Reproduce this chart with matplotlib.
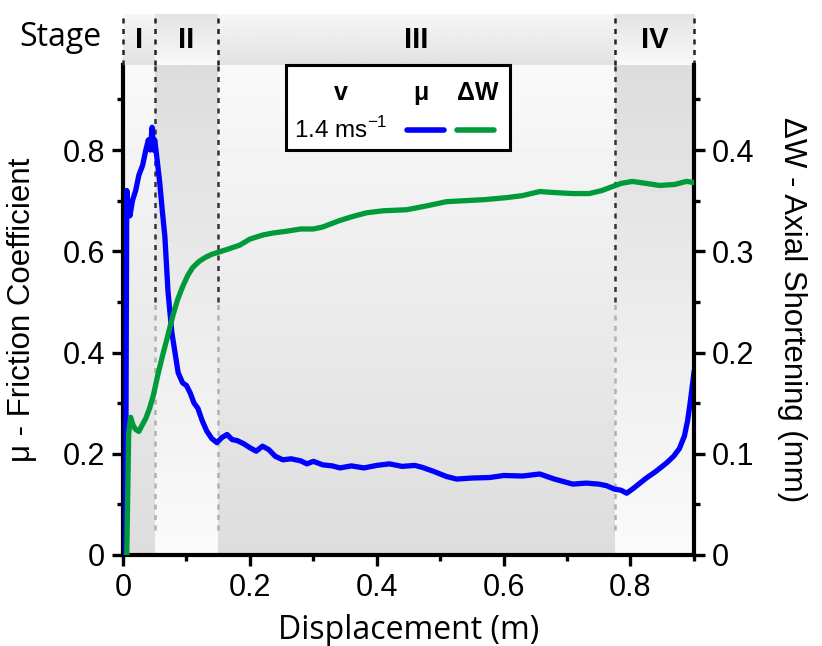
import numpy as np
import matplotlib.pyplot as plt
from matplotlib.patches import Rectangle
from matplotlib.lines import Line2D

# friction coefficient (left axis)
disp_mu = [0.004, 0.006, 0.008, 0.011, 0.015, 0.020, 0.025, 0.031, 0.036, 0.040,
           0.043, 0.046, 0.048, 0.050, 0.053, 0.058, 0.062, 0.066, 0.071, 0.077,
           0.082, 0.087, 0.094, 0.100, 0.106, 0.112, 0.118, 0.125, 0.132, 0.140,
           0.148, 0.156, 0.164, 0.172, 0.180, 0.190, 0.200, 0.210, 0.220, 0.230,
           0.240, 0.252, 0.265, 0.280, 0.290, 0.300, 0.315, 0.330, 0.342, 0.360,
           0.380, 0.400, 0.420, 0.440, 0.460, 0.472, 0.490, 0.510, 0.526, 0.550,
           0.578, 0.600, 0.630, 0.657, 0.680, 0.709, 0.730, 0.750, 0.762, 0.775,
           0.785, 0.794, 0.805, 0.815, 0.825, 0.840, 0.857, 0.868, 0.877, 0.885,
           0.890, 0.894, 0.897, 0.900]
mu = [0.0, 0.72, 0.69, 0.67, 0.70, 0.72, 0.75, 0.77, 0.80, 0.82,
      0.80, 0.845, 0.80, 0.82, 0.79, 0.735, 0.68, 0.63, 0.52, 0.44,
      0.40, 0.36, 0.34, 0.335, 0.32, 0.30, 0.29, 0.265, 0.245, 0.23,
      0.222, 0.232, 0.238, 0.228, 0.226, 0.22, 0.212, 0.205, 0.215, 0.208,
      0.195, 0.188, 0.19, 0.186, 0.18, 0.185, 0.178, 0.176, 0.172, 0.176,
      0.172, 0.177, 0.18, 0.175, 0.177, 0.173, 0.165, 0.155, 0.150, 0.152,
      0.153, 0.157, 0.156, 0.16, 0.15, 0.14, 0.142, 0.14, 0.137, 0.13,
      0.128, 0.122, 0.132, 0.142, 0.152, 0.165, 0.182, 0.195, 0.21, 0.235,
      0.265, 0.30, 0.33, 0.36]

# axial shortening (right axis, mm)
disp_dw = [0.006, 0.009, 0.012, 0.016, 0.020, 0.025, 0.030, 0.036, 0.042, 0.048,
           0.055, 0.062, 0.070, 0.078, 0.086, 0.094, 0.102, 0.110, 0.120, 0.130,
           0.140, 0.150, 0.165, 0.184, 0.200, 0.220, 0.236, 0.260, 0.280, 0.300,
           0.315, 0.340, 0.360, 0.384, 0.410, 0.447, 0.480, 0.510, 0.540, 0.570,
           0.605, 0.630, 0.657, 0.680, 0.709, 0.735, 0.755, 0.772, 0.785, 0.803,
           0.825, 0.846, 0.870, 0.888, 0.900]
dw = [0.0, 0.12, 0.136, 0.128, 0.124, 0.122, 0.128, 0.135, 0.145, 0.158,
      0.178, 0.196, 0.215, 0.235, 0.252, 0.265, 0.276, 0.284, 0.29, 0.294,
      0.297, 0.299, 0.302, 0.306, 0.312, 0.316, 0.318, 0.32, 0.322, 0.322,
      0.324, 0.33, 0.334, 0.338, 0.34, 0.341, 0.345, 0.349, 0.35, 0.351,
      0.353, 0.355, 0.359, 0.358, 0.357, 0.357, 0.36, 0.364, 0.367, 0.369,
      0.367, 0.365, 0.366, 0.369, 0.368]

stage_edges = [0.0, 0.05, 0.15, 0.775, 0.9]
stage_names = ['I', 'II', 'III', 'IV']

arial = 'Liberation Sans'
myriad = 'Open Sans'
plt.rcParams['mathtext.fontset'] = 'custom'
plt.rcParams['mathtext.rm'] = arial

fig = plt.figure(figsize=(8.22, 6.46), dpi=100)
ax = fig.add_axes([0.1496, 0.1409, 0.6946, 0.7585])
band = fig.add_axes([0.1496, 0.8994, 0.6946, 0.0789])

ymax = 0.968
ax.set_xlim(0, 0.9)
ax.set_ylim(0, ymax)
band.set_xlim(0, 0.9)
band.set_ylim(0, 1)
band.axis('off')

# shaded stage gradients (white <-> light gray, alternating)
ramp = np.linspace(0, 1, 64)[:, None]
for i in range(4):
    x0, x1 = stage_edges[i], stage_edges[i + 1]
    if i % 2 == 0:
        grad = 0.975 + (0.865 - 0.975) * ramp
        bgrad = 0.965 + (0.885 - 0.965) * ramp
    else:
        grad = 0.865 + (0.98 - 0.865) * ramp
        bgrad = 0.89 + (0.975 - 0.89) * ramp
    ax.imshow(np.repeat(grad, 2, axis=1), cmap='gray', vmin=0, vmax=1,
              extent=[x0, x1, 0, ymax], aspect='auto', interpolation='bilinear',
              origin='upper', zorder=0)
    band.imshow(np.repeat(bgrad, 2, axis=1), cmap='gray', vmin=0, vmax=1,
                extent=[x0, x1, 0, 1], aspect='auto', interpolation='bilinear',
                origin='upper', zorder=0)
    band.text((x0 + x1) / 2, 0.5, stage_names[i], ha='center', va='center',
              fontsize=21, fontweight='bold', family=arial)

# stage boundary lines
for xe in stage_edges:
    band.plot([xe, xe], [0, 1.0], color='#222222', lw=1.8, ls=(0, (2, 2.2)),
              clip_on=False, zorder=3)
for xe in stage_edges[1:4]:
    ax.plot([xe, xe], [0.5, ymax], color='#333333', lw=1.8, ls=(0, (2, 2.2)), zorder=1)
    ax.plot([xe, xe], [0.05, 0.5], color='#b0b0b0', lw=1.8, ls=(0, (2, 2.2)), zorder=1)

ax.plot(disp_mu, mu, color='#0000ff', lw=3.8, zorder=4)
ax2 = ax.twinx()
ax2.set_ylim(0, ymax / 2)
ax2.plot(disp_dw, dw, color='#009a3a', lw=3.8, zorder=4)

# ticks
ax.set_xticks([0, 0.2, 0.4, 0.6, 0.8])
ax.set_xticklabels(['0', '0.2', '0.4', '0.6', '0.8'])
ax.set_xticks([0.1, 0.3, 0.5, 0.7, 0.9], minor=True)
ax.set_yticks([0, 0.2, 0.4, 0.6, 0.8])
ax.set_yticklabels(['0', '0.2', '0.4', '0.6', '0.8'])
ax.set_yticks([0.1, 0.3, 0.5, 0.7, 0.9], minor=True)
ax2.set_yticks([0, 0.1, 0.2, 0.3, 0.4])
ax2.set_yticklabels(['0', '0.1', '0.2', '0.3', '0.4'])
ax2.set_yticks([0.05, 0.15, 0.25, 0.35, 0.45], minor=True)

for a in (ax, ax2):
    a.tick_params(which='major', length=8, width=2.4, direction='out',
                  labelsize=22, pad=5)
    a.tick_params(which='minor', length=4.5, width=2.4, direction='out')
    for lab in a.get_xticklabels() + a.get_yticklabels():
        lab.set_family(arial)
    for s in a.spines.values():
        s.set_linewidth(3)
    a.spines['top'].set_visible(False)
ax2.spines['left'].set_visible(False)
ax2.spines['bottom'].set_visible(False)
ax.spines['right'].set_visible(False)

ax.set_xlabel('Displacement (m)', fontsize=23, family=myriad, labelpad=8)
ax.set_ylabel('μ - Friction Coefficient', fontsize=22.5, family=arial, labelpad=18)
ax2.set_ylabel('ΔW - Axial Shortening (mm)', fontsize=22.5, family=arial,
               rotation=270, labelpad=38)

fig.text(60 / 822, 1 - 38 / 646, 'Stage', fontsize=23, family=myriad,
         ha='center', va='center')

# legend box
ax2.add_patch(Rectangle((0.285, 0.827), 0.392, 0.173, transform=ax.transAxes,
                        facecolor='white', edgecolor='black', lw=2.2, zorder=5,
                        clip_on=False))
ax2.text(0.382, 0.942, 'v', transform=ax.transAxes, ha='center', va='center',
         fontsize=18, fontweight='bold', family=arial, zorder=6)
ax2.text(0.382, 0.868, '1.4 ms$^{-1}$', transform=ax.transAxes, ha='center',
         va='center', fontsize=17.5, family=arial, zorder=6)
ax2.text(0.522, 0.942, 'μ', transform=ax.transAxes, ha='center', va='center',
         fontsize=18, fontweight='bold', family=arial, zorder=6)
ax2.text(0.622, 0.942, 'ΔW', transform=ax.transAxes, ha='center', va='center',
         fontsize=18, fontweight='bold', family=arial, zorder=6)
ax2.add_line(Line2D([0.497, 0.562], [0.868, 0.868], transform=ax.transAxes,
                    color='#0000ff', lw=4, solid_capstyle='round', zorder=6))
ax2.add_line(Line2D([0.585, 0.65], [0.868, 0.868], transform=ax.transAxes,
                    color='#009a3a', lw=4, solid_capstyle='round', zorder=6))

fig.savefig('out.png', dpi=100)
